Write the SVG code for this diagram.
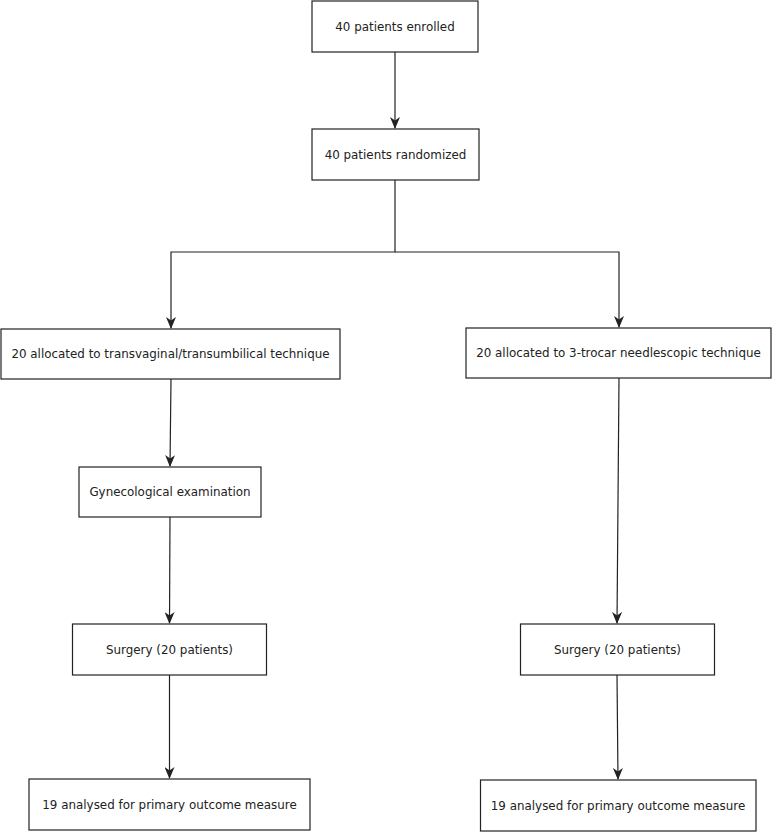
<svg xmlns="http://www.w3.org/2000/svg" width="772" height="832" viewBox="0 0 772 832">
<defs>
<style>
.box{fill:#fff;stroke:#222;stroke-width:1.2}
.lbl{font-family:"DejaVu Sans",sans-serif;font-size:11.9px;fill:#222;text-anchor:middle;dominant-baseline:central}
.edge{fill:none;stroke:#222;stroke-width:1.2}
</style>
<marker id="ah" viewBox="0 0 12 10" refX="11" refY="5" markerWidth="12" markerHeight="10" markerUnits="userSpaceOnUse" orient="auto">
<path d="M0,0 L12,5 L0,10 L3.5,5 Z" fill="#222"/>
</marker>
</defs>
<rect width="772" height="832" fill="#fff"/>
<g id="connectors">
<path class="edge" d="M395,52 L395,128" marker-end="url(#ah)"/>
<path class="edge" d="M395,180 L395,252 L171,252 L171,328" marker-end="url(#ah)"/>
<path class="edge" d="M395,252 L619,252 L619,327" marker-end="url(#ah)"/>
<path class="edge" d="M171,379 L170,466" marker-end="url(#ah)"/>
<path class="edge" d="M170,517 L169.5,623" marker-end="url(#ah)"/>
<path class="edge" d="M169.5,675 L169.5,778" marker-end="url(#ah)"/>
<path class="edge" d="M619,378 L617,623" marker-end="url(#ah)"/>
<path class="edge" d="M617,675 L618,779" marker-end="url(#ah)"/>
</g>
<g id="enrolled"><rect class="box" x="312" y="1" width="166" height="51"/><text class="lbl" x="395" y="26.5">40 patients enrolled</text></g>
<g id="randomized"><rect class="box" x="312" y="129" width="167" height="51"/><text class="lbl" x="395.5" y="154.5">40 patients randomized</text></g>
<g id="alloc-left"><rect class="box" x="1" y="329" width="339" height="50"/><text class="lbl" x="170.5" y="354">20 allocated to transvaginal/transumbilical technique</text></g>
<g id="alloc-right"><rect class="box" x="466" y="328" width="305" height="50"/><text class="lbl" x="618.5" y="353">20 allocated to 3-trocar needlescopic technique</text></g>
<g id="gyn"><rect class="box" x="79" y="467" width="182" height="50"/><text class="lbl" x="170" y="492">Gynecological examination</text></g>
<g id="surgery-left"><rect class="box" x="72.5" y="624" width="194" height="51"/><text class="lbl" x="169.5" y="649.5">Surgery (20 patients)</text></g>
<g id="surgery-right"><rect class="box" x="520.5" y="624" width="194" height="51"/><text class="lbl" x="617.5" y="649.5">Surgery (20 patients)</text></g>
<g id="analysed-left"><rect class="box" x="29" y="779" width="281" height="51"/><text class="lbl" x="169.5" y="804.5">19 analysed for primary outcome measure</text></g>
<g id="analysed-right"><rect class="box" x="480.5" y="780" width="275.5" height="51"/><text class="lbl" x="618" y="805.5">19 analysed for primary outcome measure</text></g>
</svg>
